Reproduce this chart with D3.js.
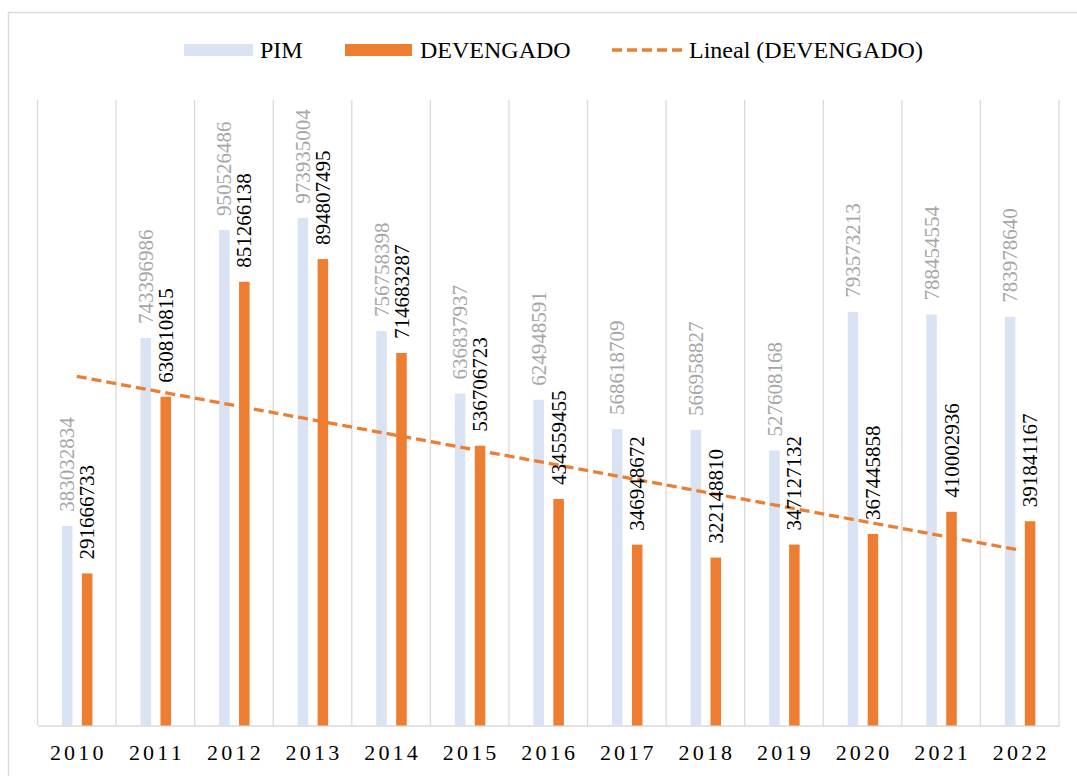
<!DOCTYPE html>
<html>
<head>
<meta charset="utf-8">
<script src="https://cdn.jsdelivr.net/npm/d3@7"></script>
<style>
html,body{margin:0;padding:0;background:#fff;}
svg{display:block;}
</style>
</head>
<body>
<svg id="chart" width="1077" height="776"></svg>
<script>
const years = ["2010","2011","2012","2013","2014","2015","2016","2017","2018","2019","2020","2021","2022"];
const pim = [383032834,743396986,950526486,973935004,756758398,636837937,624948591,568618709,566958827,527608168,793573213,788454554,783978640];
const devengado = [291666733,630810815,851266138,894807495,714683287,536706723,434559455,346948672,322148810,347127132,367445858,410002936,391841167];
const legendLabels = ["PIM","DEVENGADO","Lineal (DEVENGADO)"];
const yMax = 1200000000;

const svg = d3.select("#chart");
const W = 1077, H = 776;
const plot = {left: 37.5, right: 1059, top: 100, bottom: 725.5};
const serif = "'Liberation Serif','Times New Roman',serif";

// outer border
svg.append("rect").attr("x", 8.5).attr("y", 12.5).attr("width", W).attr("height", H)
  .attr("fill", "#fff").attr("stroke", "#d9d9d9").attr("stroke-width", 1.5);

const x = d3.scaleBand().domain(years).range([plot.left, plot.right]).padding(0);
const y = d3.scaleLinear().domain([0, yMax]).range([plot.bottom, plot.top]);
const bw = x.bandwidth();
const barW = bw * 0.134;
const pimOff = bw * 0.311;
const devOff = bw * 0.565;

// vertical gridlines
const bounds = years.map(d => x(d)).concat([plot.right]);
svg.append("g").selectAll("line").data(bounds).enter().append("line")
  .attr("x1", d => d).attr("x2", d => d)
  .attr("y1", plot.top).attr("y2", plot.bottom)
  .attr("stroke", "#d9d9d9").attr("stroke-width", 1.3);

// x axis
const xAxis = d3.axisBottom(x).tickSize(0).tickPadding(0);
const ax = svg.append("g").attr("transform", `translate(0,${plot.bottom})`).call(xAxis);
ax.select(".domain").attr("stroke", "#d9d9d9").attr("stroke-width", 1.5);
ax.selectAll("text")
  .attr("y", 34).attr("dy", 0)
  .attr("font-family", serif)
  .attr("font-size", 22).attr("letter-spacing", "3.2px").attr("fill", "#000")
  .attr("dx", "1.5px");

// bars
svg.append("g").selectAll("rect").data(years).enter().append("rect")
  .attr("x", d => x(d) + pimOff).attr("width", barW)
  .attr("y", (d, i) => y(pim[i])).attr("height", (d, i) => y(0) - y(pim[i]))
  .attr("fill", "#dae3f3");
svg.append("g").selectAll("rect").data(years).enter().append("rect")
  .attr("x", d => x(d) + devOff).attr("width", barW)
  .attr("y", (d, i) => y(devengado[i])).attr("height", (d, i) => y(0) - y(devengado[i]))
  .attr("fill", "#ed7d31");

// trend line (linear regression of DEVENGADO)
const n = devengado.length;
const xs = d3.range(1, n + 1);
const mx = d3.mean(xs), my = d3.mean(devengado);
const slope = d3.sum(xs.map((v, i) => (v - mx) * (devengado[i] - my))) / d3.sum(xs.map(v => (v - mx) * (v - mx)));
const intercept = my - slope * mx;
const trend = [[years[0], 1], [years[n - 1], n]].map(([yr, xi]) => [x(yr) + bw / 2, y(intercept + slope * xi)]);
svg.append("path").attr("d", d3.line()(trend))
  .attr("stroke", "#ed7d31").attr("stroke-width", 3.3).attr("fill", "none")
  .attr("stroke-dasharray", "10,5");

// data labels
function labels(vals, off, color) {
  svg.append("g").selectAll("text").data(years).enter().append("text")
    .attr("transform", (d, i) => `translate(${x(d) + off + barW / 2},${y(vals[i]) - 14}) rotate(-90)`)
    .attr("dy", "0.34em")
    .attr("font-family", serif).attr("font-size", 21)
    .attr("fill", color).attr("text-anchor", "start")
    .text((d, i) => vals[i]);
}
labels(pim, pimOff, "#a6a6a6");
labels(devengado, devOff, "#000");

// legend
const lg = svg.append("g").attr("font-family", serif).attr("font-size", 24).attr("fill", "#000");
lg.append("rect").attr("x", 184).attr("y", 44).attr("width", 69).attr("height", 12).attr("fill", "#dae3f3");
lg.append("text").attr("x", 260).attr("y", 58).text(legendLabels[0]);
lg.append("rect").attr("x", 345).attr("y", 44).attr("width", 67).attr("height", 12).attr("fill", "#ed7d31");
lg.append("text").attr("x", 420).attr("y", 58).text(legendLabels[1]);
lg.append("line").attr("x1", 612).attr("x2", 683).attr("y1", 50).attr("y2", 50)
  .attr("stroke", "#ed7d31").attr("stroke-width", 3.3).attr("stroke-dasharray", "10,5");
lg.append("text").attr("x", 689).attr("y", 58).text(legendLabels[2]);
</script>
</body>
</html>
